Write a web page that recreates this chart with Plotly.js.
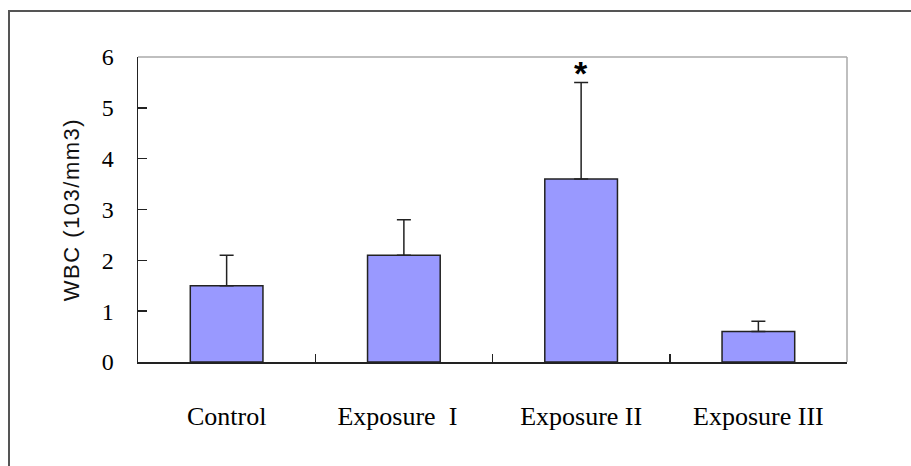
<!DOCTYPE html>
<html>
<head>
<meta charset="utf-8">
<script src="https://cdn.plot.ly/plotly-3.0.1.min.js"></script>
<style>
  html, body { margin: 0; padding: 0; background: #fff; }
  #wrap { position: relative; width: 911px; height: 466px; overflow: hidden; }
  #chart { position: absolute; left: 0; top: 0; width: 911px; height: 466px; }
  #frame {
    position: absolute; left: 8px; top: 10px; width: 1000px; height: 1000px;
    border-left: 2px solid #555; border-top: 2px solid #555; pointer-events: none;
  }
  .ytitle { letter-spacing: 1.5px; }
</style>
</head>
<body>
<div id="wrap">
  <div id="chart"></div>
  <div id="frame"></div>
</div>
<script>
// WBC counts per group (x10^3 / mm3), with SD shown as upward error bars
const groups = ["Control", "Exposure\u00a0\u00a0I\u00a0\u00a0", "Exposure II", "Exposure III"];
const wbcMean = [1.5, 2.1, 3.6, 0.6];
const wbcSD = [0.6, 0.7, 1.9, 0.2];
const significant = [false, false, true, false];
const yTicks = [0, 1, 2, 3, 4, 5, 6];

const trace = {
  type: "bar",
  x: groups,
  y: wbcMean,
  marker: { color: "#9999FF", line: { color: "#222", width: 1.5 } },
  error_y: {
    type: "data",
    symmetric: false,
    array: wbcSD,
    arrayminus: wbcSD.map(() => 0),
    color: "#222",
    thickness: 1.5,
    width: 7
  },
  hoverinfo: "skip"
};

// significance markers above the error bars
const stars = groups.map((g, i) => significant[i] ? {
  x: g, y: wbcMean[i] + wbcSD[i], xref: "x", yref: "y",
  text: "*", showarrow: false, yanchor: "bottom", yshift: -12,
  font: { family: "Liberation Sans", size: 34, color: "#000", weight: "bold" }
} : null).filter(a => a);

const layout = {
  width: 911, height: 466,
  margin: { l: 137.5, r: 64, t: 56.7, b: 103.7 },
  paper_bgcolor: "#fff", plot_bgcolor: "#fff",
  showlegend: false,
  bargap: 0.59,
  font: { family: "Liberation Serif", color: "#000" },
  xaxis: {
    type: "category",
    showline: true, linecolor: "#222", linewidth: 1.5,
    ticks: "inside", tickson: "boundaries", ticklen: 8, tickwidth: 1.5, tickcolor: "#222",
    tickfont: { family: "Liberation Serif", size: 26, color: "#000" },
    ticklabelstandoff: 30,
    showgrid: false, zeroline: false, fixedrange: true
  },
  yaxis: {
    range: [0, 6], tickvals: yTicks, ticktext: yTicks.map(String),
    showline: true, linecolor: "#222", linewidth: 1.5,
    ticks: "inside", ticklen: 9, tickwidth: 1.5, tickcolor: "#222",
    tickfont: { family: "Liberation Serif", size: 24, color: "#000" },
    ticklabelstandoff: 18,
    showgrid: false, zeroline: false, fixedrange: true,
    title: { text: "WBC (103/mm3)", standoff: 16,
             font: { family: "Liberation Sans", size: 22, color: "#111" } }
  },
  shapes: [
    { type: "line", xref: "paper", yref: "paper", x0: 0, x1: 1, y0: 1, y1: 1,
      line: { color: "#aaa", width: 1.5 } },
    { type: "line", xref: "paper", yref: "paper", x0: 1, x1: 1, y0: 0, y1: 1,
      line: { color: "#aaa", width: 1.5 } }
  ],
  annotations: stars
};

Plotly.newPlot("chart", [trace], layout, { staticPlot: true, displayModeBar: false });
</script>
</body>
</html>
